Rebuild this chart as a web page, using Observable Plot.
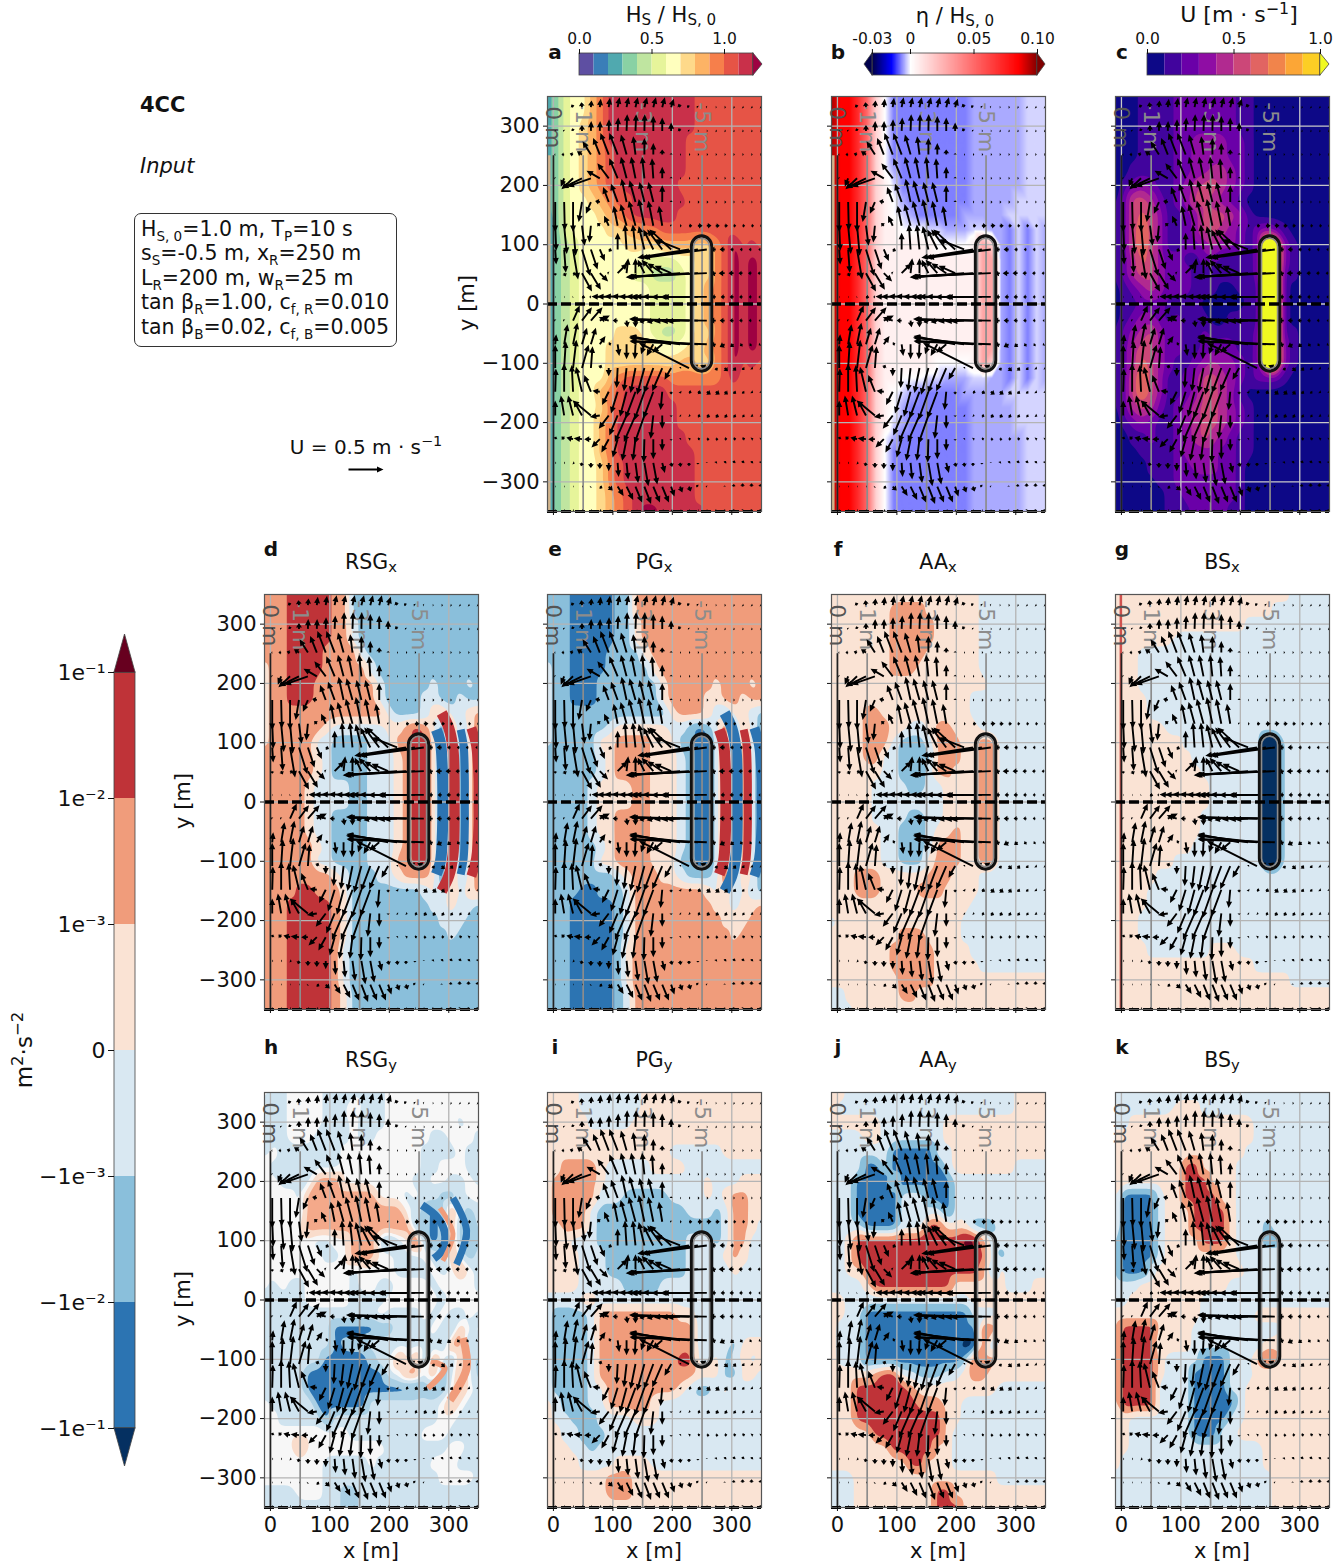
<!DOCTYPE html>
<html><head><meta charset="utf-8">
<script src="https://cdn.jsdelivr.net/npm/d3@7"></script>
<script src="https://cdn.jsdelivr.net/npm/@observablehq/plot@0.6"></script>
<style>
html,body{margin:0;padding:0;background:#fff}
#root{position:relative;width:1340px;height:1564px;overflow:hidden;font-family:"DejaVu Sans",sans-serif;color:#111}
#root svg{position:absolute;overflow:visible;background:transparent}
.t{position:absolute;white-space:nowrap;line-height:1}
.t sub,.t sup{font-size:72%;line-height:0}
.t sub{vertical-align:-0.2em}
#box sub{font-size:66%;line-height:0}
#box{position:absolute;left:134px;top:213px;width:255px;height:129px;border:1.3px solid #333;border-radius:7px;font-size:20.5px;line-height:24.4px;padding:3px 0 0 6px;white-space:nowrap;box-sizing:content-box}
</style></head><body><div id="root"></div>
<script>
// ---- grid of the gridded fields (metres) ----
const gridX=[-10,5,20,35,50,65,80,95,110,125,140,155,170,185,200,215,230,245,260,275,290,305,320,335,350];
const gridY=[350,325,300,275,250,225,200,175,150,125,100,75,50,25,0,-25,-50,-75,-100,-125,-150,-175,-200,-225,-250,-275,-300,-325,-350];

// ---- class in every grid cell, one string per gridY row ----
const levelsA=["2356689bbbbbbbbbbaaaaaaaa","2356689bbbbbbbbbbaaaaaaaa","2356789bbbbbbbbbbaaaaaaaa","2356789bbbbbbbbbaaaaaaaaa","2356789abbbbbbbbaaaaaaaaa","2356789abbbbbbbbaaaaaaaaa","2356789aabbbbbbaaaaaaaaaa","23566789aabbbbbbaaaaaaaaa","235666789abbbbbaaaaaaaaaa","1356666778899aaaaaaaaaaaa","13456666677778888779acaba","13456666666555566779acbcb","13456666665544456779acbcb","13456666666655556789acbcb","13456666666655556789acbcb","13456666666655556789acbcb","13456666777654456779acbcb","13456667777776667789acbcb","13456667777777788779acaba","134566689aaaaa999999abaaa","13456689abbbbbaaaaaaaaaaa","13456679abbbbbbaaaaaaaaaa","13456689bbbbbbbaaaaaaaaaa","13456689bbbbbbbbaaaaaaaaa","13456689bbbbbbbbbaaaaaaaa","13456679abbbbbbbbaaaaaaaa","13456679abbbbbbbbaaaaaaaa","134566789abbbbbbbaaaaaaaa","134566789abccbbbbbaaaaaaa"];
const levelsB=["cbba975222222222333333444","cbba975222222222333333444","cbba975222222222333333444","cbba975222222222333333444","cbba975222222222333333444","cbba975322222222333333444","cbba976422222222333333444","cbba976532222222333334444","cbba976543222223333344444","cbba976655544333443324243","cbba976666665555687324243","cbba976666666666688324243","cbba976666666666688324243","cbba976666666666688324243","cbba976666666666688324243","cbba976666666666688324243","cbba976666666666688324243","cbba976666666666688324243","cbba976666665555687324243","cbba976655544333443324243","cbba976543222223333344444","cbba976532222222333334444","cbba976432222222333334444","cbba975322222222333333444","cbba975222222222333333444","cbba975222222222333333444","cbba975222222222333333444","cbba975222222222333333444","cbba975222222222333333444"];
const levelsC=["0001111222222211000000000","0001111222222211000000000","0001111222222211000000000","0001111223333221000000000","0001111223333221000000000","0011111223344321000000000","0123211234554321000000000","0255421235543210000000000","0256531123555431000000000","0257531123554321232100000","02575311223433212aa210000","02465322112211112aa210000","02455323211111112aa110000","01234322211100111aa100000","01122211110000011aa100000","01233212111001111aa100000","02345322112111112aa110000","02455322112232112aa210000","02465321123433212aa210000","0257531123554321222100000","0257531123554310000000000","0245421234554321000000000","0123211234554321000000000","0011211234543211000000000","0001111233332211000000000","0000111223332210000000000","0000011222222210000000000","0000001122222210000000000","0000001112222110000000000"];
const levelsD=["5556666655222222222222222","5556666655222222222222222","5556666655322222222222222","5556666655322222222222222","5556666555532222222222222","4556666555553222222222222","4556665555555322222322232","4556665555555322223322322","4555555555555532223453345","4555555433333344565416245","4555553322223335566416146","5555554322223334566416146","5555554322223334566416146","5555543333223334566416146","5555543333223334566416146","5555543322223334566416146","5555543322223334566416146","5555554322223334566416146","5555553322223335566416146","5555555543222334555416245","5555665554222222223425345","5556666654222222222334332","5556666654222222222233322","5556666654222222222223222","5556666653222222222222222","5556666653222222222222222","5556666653222222222222222","5556666654222222222222222","5556666654222222222222222"];
const levelsE=["2221111122555555555555555","2221111122555555555555555","2221111122455555555555555","2221111122455555555555555","2221111222245555555555555","3221111222224555555555555","3221112222222455555455545","3221112222222455554455455","3222222222222245554324432","3222222344444433212361532","3222224455554442211361631","2222223455554443211361631","2222223455554443211361631","2222234444554443211361631","2222234444554443211361631","2222234455554443211361631","2222234455554443211361631","2222223455554443211361631","2222224455554442211361631","2222222234555443222361532","2222112223555555554352432","2221111123555555555443445","2221111123555555555544455","2221111123555555555554555","2221111124555555555555555","2221111124555555555555555","2221111124555555555555555","2221111123555555555555555","2221111123555555555555555"];
const levelsF=["4444444444444444433333333","4444444555544444433333333","4444444555554444433333333","4444444555554444433333333","4444444555544444433333333","4444444555444444433333333","4444444444444444443333333","4444444444444444333333333","4444554444444444333333333","4444555443345544433333333","4444555322235554455333333","4444553322225554455333333","4444443322235544455333333","4444433332233444455333333","4444433333333444455333333","4444433332233444455333333","4444443322234454455333333","4444443322235554455333333","4444443322245554455333333","4445554444455544433333333","4445554444555444433333333","4444444444444444333333333","3444444444444443333333333","4444444455544443333333333","4444444555554444333333333","4444444555554444433333333","4444444455554444444444444","3344444455444444444444444","3334444444444444444444444"];
const levelsG=["4444444444444444444433333","4444444444444444443333333","4444444444444443333333333","4444444333333333333333333","4443333333333333333333333","4443333333333333333333333","4443333333333333333333333","4444333333333333333333333","4444333333333333333333333","4444443333333333333333333","4444444433333333300333333","4444444443333333300333333","4444444444333333300333333","4444444444433333300333333","4444444444433333300333333","4444444444333333300333333","4444444444333333300333333","4444444443333333300333333","4444444333333333300333333","4444433333333333333333333","4444333333333333333333333","4444333333333333333333333","4443333333333333333333333","4443333333333333333333333","4444333333344433333333333","4444444444444444333333333","4444444444444444444433333","4444444444444444444444444","4444444444444444444444444"];
const levelsH=["w33wwww3333333wwwwwwwwwww","333wwww3334333wwwwwwwwwww","333wwww333w333wwwwwwww3ww","333www3333w33wwwwww33www3","3w3333333wwwwwwwww3333w33","w33333333wwwwwwwww33www33","ww3333555wwwwwwww33ww33w3","wwww355555555www3w33223ww","wwww355555555555w32125323","wwwww55555555555522125213","wwwwww33ww555323w62125213","wwwwwww33w555ww333w325323","wwwwwwwwww3wwww3333w3w5w3","w3w33wwwww3ww33wwww3wwww3","33333wwwww3333wwwwww3wwww","3333333333333w3333w3w33w3","3333333311111223333w3253w","333333331222333333332552w","3333333111112335w525w2532","333331111111113w5535235w2","333331111111111111212w5w3","w3333w11111133333333w5w33","ww333331333333333333ww333","wwwwwwwwww33333333www3333","wwww5wwwwwwwww3333333ww33","wwwwwww33333w333333www333","wwwwwww3333333333333wwww3","3333www332233333333333333","3333333332233333333333333"];
const levelsI=["4444333333344444444444444","4444333333344444444444444","4444433333444444444444444","4444444444444444444444444","4444444444444433333344444","4455554333334444333333333","4555554333333333334333444","4555553332222233334345544","4555532222222222333235544","4455532222222222222235543","4443332222222222333235533","4444333222222222333345433","4444333222222222333334333","4444333332222333333333333","3333443333333333333333333","3222235555555554433333333","3222235555555555533333333","3222235555555555533332444","3222235555555556633423434","3222235555555555544422443","3222233555555554322343333","4322233555554333333333333","4332223333444333333333333","4433222333333333333333333","4443323333333333333333333","4444333344443333333333333","4444444555444444444444444","4444444555444444444444444","4444444444444444444444444"];
const levelsJ=["4433333333333333333334444","4333333333333333333334444","4444443333333444444444444","3333443333333444444444444","3333333111113344444444444","3333113111111344444443333","3331111311111133333333333","3331111133311133333333333","3331111133333133333333333","3333111133366444222333333","3346666666666667753333333","3346666666666666663233333","3344666666666666652433333","3333466666666644444433344","4433333333333333444444444","4433111111111111333444444","4333111111111111165444444","4333111111111110062444444","4333111111111112655444444","4444456633222334554444444","4446666665444444444333333","4446666666555443333333333","4446666666666443333333333","4444466666666433333333333","4444444666664433333333333","4444444446644433333333333","3334444444444444444333333","3334444444446644444444444","3334444444446664444444444"];
const levelsK=["3333333333333333333333333","3333333444333333333333333","3344444444444444333333333","4444444444444444333333333","4444444444444443333333333","4444444466444433333333333","4444444466644433333333333","4111134466664433333333333","4111134446666433333333333","4111134446666433323333333","3111134444666433322333333","3111134444444433333333333","3111344444444443333333333","3334444444444333333333333","3344444444333333333333333","4444444444333333444444444","4666644443333333333444444","4666634443333333344444444","4666643333111333565444444","4666643331111333444444444","4666633331111334444444444","4666633331111134444444444","4433333331111334444444444","4433333331113344444444444","4433333333333333344444444","4333333333333333344444444","3333333333333333334444444","3333333333333333334444444","3333333333333333334444444"];

// ---- colour classes ----
const coloursA=["#5e4fa2","#3a7eb8","#50a9af","#89d1a4","#bfe5a0","#e6f49a","#ffffbe","#fed98a","#fdb365","#f67f4b","#e65446","#c9304a","#9e0142"];
const thresholdsA=[.5,1.5,2.5,3.5,4.5,5.5,6.5,7.5,8.5,9.5,10.5,11.5];
const coloursC=["#0d0887","#41049d","#6a00a8","#8f0da4","#b12a90","#cc4778","#e16462","#f1844b","#fca636","#fcce25","#f0f921"];
const thresholdsC=[.5,1.5,2.5,3.5,4.5,5.5,6.5,7.5,8.5,9.5];
const coloursRB=["#053061","#2c74b2","#8abfdb","#d9e8f2","#fae3d4","#f09c7b","#bf3338","#67001f"];
const thresholdsRB=[.5,1.5,2.5,3.5,4.5,5.5,6.5];
const coloursH=["#053061","#2c74b2","#a9cfe4","#cfe3ef","#f7f7f7","#f9dccb","#f4a98a","#bf3338","#67001f"];
const thresholdsH=[.5,1.5,2.5,3.25,3.75,4.5,5.5,6.5];
const etaOfLevel=[-.02,-.012,-.0075,-.005,-.0025,0,.005,.015,.03,.05,.07,.085,.095];
const etaDomain=[-.03,-.015,0,.085,.1];
const etaRange=["#00004c","#0000ff","#ffffff","#ff0000","#7f0000"];

// ---- wave crests seaward of the reef, narrower than the grid: metres along each crest ----
const crest1=[{x:279,y:122},{x:286,y:100},{x:289,y:60},{x:290,y:0},{x:289,y:-60},{x:286,y:-100},{x:279,y:-122}];
const crest2=[{x:288,y:150},{x:300,y:125},{x:307,y:90},{x:309,y:40},{x:309,y:0},{x:309,y:-40},{x:307,y:-90},{x:300,y:-125},{x:288,y:-150}];
const crest3=[{x:320,y:122},{x:325,y:95},{x:327,y:40},{x:327,y:0},{x:327,y:-40},{x:325,y:-95},{x:320,y:-122}];
const crest4=[{x:338,y:125},{x:346,y:95},{x:350,y:40},{x:350,y:0},{x:350,y:-40},{x:346,y:-95},{x:338,y:-125}];
const crestsD=[{pts:crest1,c:1,w:11},{pts:crest2,c:6,w:11},{pts:crest3,c:1,w:8},{pts:crest4,c:6,w:10}];
const crestsE=[{pts:crest1,c:6,w:11},{pts:crest2,c:1,w:11},{pts:crest3,c:6,w:8},{pts:crest4,c:1,w:10}];
const arcH1=[{x:255,y:160},{x:280,y:140},{x:293,y:115},{x:290,y:85},{x:275,y:70}];
const arcH2=[{x:285,y:155},{x:307,y:112},{x:290,y:66}];
const arcH3=[{x:307,y:172},{x:330,y:117},{x:313,y:60}];
const arcH4=[{x:324,y:-64},{x:330,y:-115},{x:302,y:-169}];
const arcH5=[{x:270,y:-103},{x:293,y:-115},{x:265,y:-149}];
const crestsH=[{pts:arcH1,c:1,w:8},{pts:arcH2,c:5,w:5},{pts:arcH3,c:1,w:7},{pts:arcH4,c:5,w:8},{pts:arcH5,c:5,w:6}];

// ---- current vectors: rows at quiverY, columns at quiverX. Units: 105 = 0.5 m/s ----
const quiverX=[3,18,33,48,63,78,93,108,123,138,153,168,183,198,213,228,243,258,273,288,303,318,333,348];
const quiverY=[332,292,252,212,172,132,92,52,12,-28,-68,-108,-148,-188,-228,-268,-308,-348];
const quiverU=[
[0,0,-5,-2,2,3,4,6,6,7,8,8,8,8,-5,-6,-4,-3,3,4,4,4,4,4],
[1,-3,-2,0,1,1,1,2,2,2,1,0,0,0,-5,-3,3,3,4,4,4,4,4,4],
[-3,-8,-10,-15,-25,-20,-25,-25,-17,-7,0,0,0,0,3,4,4,4,4,4,4,4,4,4],
[-3,-10,-35,-60,-70,-40,-34,-25,-17,-13,-7,-4,0,0,3,4,4,4,4,4,4,4,4,4],
[0,2,0,-10,-15,-14,-17,-20,-15,-18,-15,-15,0,0,3,4,5,5,5,5,4,4,4,4],
[3,8,8,8,-5,-8,-14,-12,-18,-20,-17,-15,-10,-3,5,10,14,14,12,10,8,8,8,8],
[3,5,15,25,20,15,10,0,-5,-8,-17,-30,-45,-65,-75,-155,-170,-190,-15,-15,-10,-8,-8,-6],
[0,5,10,30,30,25,-5,30,5,0,-20,-35,-45,-50,-160,-190,-210,-230,-14,-18,-15,-12,-10,-8],
[2,2,-2,10,-5,-25,-35,-40,-45,-50,-55,-55,-60,-60,-60,-80,-200,-230,-12,-12,-12,-10,-8,-6],
[-3,-3,20,30,35,30,-30,-15,3,0,-15,-20,-25,-30,-40,-180,-200,-230,-18,-15,-12,-10,-8,-5],
[3,10,13,15,15,17,8,5,0,-2,-10,-20,-30,-125,-150,-180,-205,-230,-14,-15,-10,-8,-6,-5],
[0,5,10,20,5,5,0,-3,-8,-15,-22,-28,-30,-20,3,-150,-15,-20,5,10,8,6,5,5],
[2,0,-4,-18,-20,-22,-20,-20,-20,-30,-30,-30,-5,0,3,8,10,12,12,10,8,6,5,4],
[0,-10,-15,-25,-55,-30,-30,-25,-35,-35,-30,-8,0,0,3,5,8,10,10,9,8,7,6,5],
[3,-8,-20,-25,-20,-25,-22,-15,-13,-8,-2,0,0,0,3,5,7,8,8,8,8,8,6,5],
[3,3,5,-3,0,0,0,3,5,8,12,12,8,3,2,0,0,0,3,4,4,4,4,3],
[2,2,2,2,-2,8,12,18,20,20,20,20,20,10,7,5,-5,-3,0,0,1,1,1,0],
[3,3,3,4,4,5,5,5,5,5,5,5,4,4,3,3,3,3,3,2,2,2,2,2]];
const quiverV=[
[0,0,8,15,20,25,28,30,30,30,30,30,30,25,10,5,3,1,0,0,-1,-2,-2,-2],
[2,3,8,18,30,30,35,40,50,50,50,45,40,25,8,3,0,0,-1,-1,-1,-1,-1,-1],
[0,0,3,10,40,50,65,65,60,55,50,35,15,5,0,0,0,0,0,0,0,0,0,0],
[2,-25,-33,-30,-25,23,45,60,65,65,65,60,35,5,0,0,0,0,0,0,0,0,0,0],
[-90,-85,-90,-60,-35,3,45,55,70,65,60,60,50,5,0,0,0,0,0,0,0,0,0,0],
[-75,-85,-90,-60,-50,8,30,60,65,75,80,75,60,3,0,0,0,1,0,0,0,0,0,0],
[-45,-70,-90,-80,-60,-35,-5,50,75,75,70,60,60,60,30,-25,-25,-25,0,0,0,0,0,0],
[-8,-10,-5,-55,-50,-25,2,30,45,45,40,40,30,22,-12,-12,-12,-10,-3,0,0,0,0,0],
[0,0,-1,-2,0,1,1,2,2,1,1,1,1,0,0,0,0,0,0,0,0,0,0,0],
[3,3,45,40,40,15,10,0,-20,-20,-5,-5,-3,-3,-3,5,3,3,0,0,0,0,0,0],
[30,60,65,50,50,25,3,-35,-45,-45,-30,-35,-25,25,22,20,10,8,-3,-8,-8,-5,-4,-3],
[70,80,85,70,65,10,-25,-60,-70,-75,-80,-75,-70,-35,3,75,10,8,-8,-10,-8,-6,-4,-3],
[70,85,80,75,50,3,-40,-65,-75,-80,-85,-80,-55,-8,-5,-3,-5,-8,-8,-8,-6,-5,-4,-3],
[45,60,60,45,45,-5,-40,-60,-80,-80,-85,-70,-40,-5,-3,-2,-3,-5,-5,-5,-5,-4,-3,-2],
[8,8,5,3,0,-25,-40,-55,-65,-65,-70,-60,-35,-5,3,3,2,0,0,1,2,3,3,3],
[0,0,-2,-10,-15,-18,-25,-42,-50,-60,-70,-65,-30,-12,-12,-10,-5,2,5,6,7,7,6,5],
[0,0,0,0,-3,-5,-12,-28,-40,-48,-52,-48,-48,-30,-18,-15,5,2,0,3,8,10,10,8],
[0,0,0,-2,-3,-4,-5,-6,-6,-6,-6,-5,-4,-3,-3,-2,-1,0,1,2,3,3,3,3]];
const referenceArrow=[{u:105,v:0}];

// ---- fixed features of the maps ----
const depthContours=[{x:0,label:"0 m",stroke:"#222",text:"#555"},{x:50,label:"-1 m",stroke:"#8c8c8c",text:"#8c8c8c"},{x:150,label:"-3 m",stroke:"#8c8c8c",text:"#8c8c8c"},{x:250,label:"-5 m",stroke:"#8c8c8c",text:"#8c8c8c"}];
const depthTop=250, labelY=298;
const gridTicksX=[0,100,200,300], gridTicksY=[-300,-200,-100,0,100,200,300];
const reefOuter=[{x1:233,x2:267,y1:-114,y2:114}], reefInner=[{x1:236.5,x2:263.5,y1:-110,y2:110}];
const tanStrip=[{x1:-10,x2:-4,y1:-350,y2:250}];

const root=document.getElementById("root");
function txt(html,x,y,o={}){
  const d=document.createElement("div");d.className="t";d.innerHTML=html;
  d.style.left=x+"px";d.style.top=y+"px";
  d.style.fontSize=(o.size||19)+"px";
  if(o.weight)d.style.fontWeight=o.weight;
  if(o.italic)d.style.fontStyle="italic";
  const a=o.anchor==="start"?"0":"-50%";
  d.style.transform=`translate(${a},-50%)`+(o.rotate?` rotate(${o.rotate}deg)`:"");
  root.appendChild(d);
}
function place(svg,left,top){svg.style.left=left+"px";svg.style.top=top+"px";root.appendChild(svg);}

const quiverShape={draw(ctx,l){
  if(l<0.4)return;
  const hl=Math.min(6.5,Math.max(l*0.75,1.8)),hw=Math.min(3,1+l*0.38),sw=0.95;
  if(l<=hl+0.5){ctx.moveTo(0,-l);ctx.lineTo(hw,0);ctx.lineTo(-hw,0);ctx.closePath();return;}
  ctx.moveTo(-sw,0);ctx.lineTo(-sw,-(l-hl));ctx.lineTo(-hw,-(l-hl));ctx.lineTo(0,-l);ctx.lineTo(hw,-(l-hl));ctx.lineTo(sw,-(l-hl));ctx.lineTo(sw,0);ctx.closePath();
}};
const arrows=quiverY.flatMap((y,r)=>quiverX.map((x,c)=>{
  const u=quiverU[r][c],v=quiverV[r][c];
  return {x,y,len:Math.hypot(u,v)/3,rot:Math.atan2(u,v)*180/Math.PI};
}));

const W=214,H=415;
function panel(cfg){
  const {levels,decode,color,left,top,showX,showY,reefFill,tan,shoreRed,crests,palette,bands}=cfg;
  const cells=levels.flatMap((row,r)=>gridX.map((x,j)=>{
    const ch=row[j]??row[row.length-1];
    return {x,y:gridY[r],v:decode(ch)};
  }));
  const ml=showY?70:8,mb=showX?34:8;
  const fmtY=d=>showY?String(d).replace("-","\u2212"):"";
  const fmtX=d=>showX?String(d):"";
  const field={x:"x",y:"y",fill:"v",interpolate:"barycentric",x1:-10,x2:350,y1:-350,y2:350,pixelSize:1};
  const svg=Plot.plot({
    width:W+ml+2,height:H+2+mb,marginLeft:ml,marginRight:2,marginTop:2,marginBottom:mb,
    x:{domain:[-10,350]},y:{domain:[-350,350]},color,length:{type:"identity"},
    style:{fontFamily:"DejaVu Sans",fontSize:"21px",background:"transparent",color:"#111"},
    marks:[
      Plot.raster(cells,field),
      ...(bands?[Plot.contour(cells,{...field,thresholds:[-1,...bands],blur:3,stroke:"none"})]:[]),
      ...(crests||[]).map(c=>Plot.line(c.pts,{x:"x",y:"y",stroke:()=>palette[c.c],strokeWidth:c.w,curve:"catmull-rom",strokeLinecap:"butt",clip:true})),
      ...(tan?[Plot.rect(tanStrip,{x1:"x1",x2:"x2",y1:"y1",y2:"y2",fill:"#d2b48c"})]:[]),
      Plot.ruleX(gridTicksX,{stroke:cfg.gridStroke||"#b4b4b4",strokeWidth:1.3}),
      Plot.ruleY(gridTicksY,{stroke:cfg.gridStroke||"#b4b4b4",strokeWidth:1.3}),
      ...(shoreRed?[Plot.ruleX([-1],{stroke:"#d0524e",strokeWidth:2.5})]:[]),
      Plot.ruleX(depthContours,{x:"x",y1:-350,y2:depthTop,stroke:"stroke",strokeWidth:1.7}),
      Plot.text(depthContours,{x:"x",y:labelY,text:"label",rotate:90,fill:"text",fontSize:22}),
      ...(reefFill?[Plot.rect(reefInner,{x1:"x1",x2:"x2",y1:"y1",y2:"y2",fill:reefFill,rx:9})]:[]),
      Plot.vector(arrows,{x:"x",y:"y",length:"len",rotate:"rot",anchor:"start",shape:quiverShape,fill:"#000",stroke:"none",clip:true}),
      Plot.rect(reefOuter,{x1:"x1",x2:"x2",y1:"y1",y2:"y2",rx:10.5,fill:"none",stroke:"#111",strokeWidth:3.2}),
      Plot.rect(reefInner,{x1:"x1",x2:"x2",y1:"y1",y2:"y2",rx:8.5,fill:"none",stroke:"#8c8c8c",strokeWidth:1.6}),
      Plot.ruleY([0],{stroke:"#000",strokeWidth:3.4,strokeDasharray:"10,4"}),
      Plot.ruleY([-350],{stroke:"#000",strokeWidth:3,strokeDasharray:"10,4"}),
      Plot.frame({stroke:"#555",strokeWidth:1.2}),
      Plot.axisX({ticks:gridTicksX,tickSize:4,tickPadding:6,tickFormat:fmtX,label:null,fontSize:21,anchor:"bottom"}),
      Plot.axisY({ticks:gridTicksY,tickSize:4,tickPadding:4,tickFormat:fmtY,label:null,fontSize:21,anchor:"left"})
    ]
  });
  place(svg,left-ml,top-2);
}
const thr=(domain,range)=>({type:"threshold",domain,range});
const levelNum=c=>parseInt(c,36);
const levelH=c=>c==="w"?3.5:parseInt(c,36);
const rb=thr(thresholdsRB,coloursRB);

const colX=[264,547,831,1115], rowY=[96,594,1092];
panel({levels:levelsA,decode:levelNum,color:thr(thresholdsA,coloursA),bands:thresholdsA,left:colX[1],top:rowY[0],showY:true,tan:true});
panel({levels:levelsB,decode:c=>etaOfLevel[parseInt(c,36)],color:{type:"linear",domain:etaDomain,range:etaRange,clamp:true},left:colX[2],top:rowY[0],tan:true});
panel({levels:levelsC,decode:levelNum,color:thr(thresholdsC,coloursC),bands:thresholdsC,left:colX[3],top:rowY[0],reefFill:"#f0f921",gridStroke:"#c8c8c8"});
panel({levels:levelsD,decode:levelNum,color:rb,bands:thresholdsRB,left:colX[0],top:rowY[1],showY:true,crests:crestsD,palette:coloursRB});
panel({levels:levelsE,decode:levelNum,color:rb,bands:thresholdsRB,left:colX[1],top:rowY[1],crests:crestsE,palette:coloursRB});
panel({levels:levelsF,decode:levelNum,color:rb,bands:thresholdsRB,left:colX[2],top:rowY[1]});
panel({levels:levelsG,decode:levelNum,color:rb,bands:thresholdsRB,left:colX[3],top:rowY[1],reefFill:"#053061",shoreRed:true});
panel({levels:levelsH,decode:levelH,color:thr(thresholdsH,coloursH),bands:thresholdsH,left:colX[0],top:rowY[2],showY:true,showX:true,crests:crestsH,palette:coloursRB});
panel({levels:levelsI,decode:levelNum,color:rb,bands:thresholdsRB,left:colX[1],top:rowY[2],showX:true});
panel({levels:levelsJ,decode:levelNum,color:rb,bands:thresholdsRB,left:colX[2],top:rowY[2],showX:true});
panel({levels:levelsK,decode:levelNum,color:rb,bands:thresholdsRB,left:colX[3],top:rowY[2],showX:true});

// ---- horizontal colour bars ----
function hbar({xL,xR,v0,v1,segs,tipsL,tipsR,ticks,labels}){
  const m=30;
  const tri=(from,to,fill)=>Plot.areaY([{x:from,y1:0,y2:1},{x:to,y1:.5,y2:.5}],{x:"x",y1:"y1",y2:"y2",fill,stroke:"#444",strokeWidth:.8});
  const svg=Plot.plot({width:xR-xL+2*m,height:50,marginLeft:m,marginRight:m,marginTop:26,marginBottom:2,
    x:{domain:[v0,v1]},y:{domain:[0,1],axis:null},
    style:{fontFamily:"DejaVu Sans",fontSize:"15.5px",background:"transparent",color:"#111"},
    marks:[
      Plot.rect(segs,{x1:"a",x2:"b",y1:0,y2:1,fill:"c"}),
      Plot.rect([{a:segs[0].a,b:segs[segs.length-1].b}],{x1:"a",x2:"b",y1:0,y2:1,fill:"none",stroke:"#444",strokeWidth:.8}),
      ...(tipsL?[tri(tipsL[0],tipsL[1],tipsL[2])]:[]),
      ...(tipsR?[tri(tipsR[0],tipsR[1],tipsR[2])]:[]),
      Plot.axisX({ticks,anchor:"top",tickSize:5,tickPadding:5,label:null,fontSize:15.5,tickFormat:d=>labels[ticks.indexOf(d)]})
    ]});
  place(svg,xL-m,53-26);
}
const barClassesA=d3.range(12).map(i=>({a:i*.1,b:(i+1)*.1,c:coloursA[i]}));
hbar({xL:579,xR:762,v0:0,v1:183/145,segs:barClassesA,tipsR:[1.2,183/145,coloursA[12]],ticks:[0,.5,1],labels:["0.0","0.5","1.0"]});
const etaColor=d3.scaleLinear().domain(etaDomain).range(etaRange).clamp(true);
const barClassesB=d3.range(-.03,.1,.001).map(a=>({a,b:Math.min(a+.0018,.1),c:etaColor(a)}));
hbar({xL:864,xR:1045,v0:(864-910)/1270,v1:(1045-910)/1270,segs:barClassesB,tipsL:[-.03,(864-910)/1270,"#00004c"],tipsR:[.1,(1045-910)/1270,"#7f0000"],ticks:[-.03,0,.05,.1],labels:["-0.03","0","0.05","0.10"]});
const barClassesC=d3.range(10).map(i=>({a:i*.1,b:(i+1)*.1,c:coloursC[i]}));
hbar({xL:1147,xR:1329,v0:0,v1:182/173,segs:barClassesC,tipsR:[1,182/173,coloursC[10]],ticks:[0,.5,1],labels:["0.0","0.5","1.0"]});

// ---- vertical colour bar ----
const vLabels=["\u22121e\u207B\u00B9","\u22121e\u207B\u00B2","\u22121e\u207B\u00B3","0","1e\u207B\u00B3","1e\u207B\u00B2","1e\u207B\u00B9"];
const vClasses=[1,2,3,4,5,6].map((k,i)=>({a:i,b:i+1,c:coloursRB[k]}));
const tip=38/126;
place(Plot.plot({width:21+106,height:756+76+2,marginLeft:106,marginRight:0,marginTop:1,marginBottom:1,
  x:{domain:[0,1],axis:null},y:{domain:[-tip,6+tip]},
  style:{fontFamily:"DejaVu Sans",fontSize:"22px",background:"transparent",color:"#111"},
  marks:[
    Plot.rect(vClasses,{y1:"a",y2:"b",x1:0,x2:1,fill:"c"}),
    Plot.rect([{a:0,b:6}],{y1:"a",y2:"b",x1:0,x2:1,fill:"none",stroke:"#444",strokeWidth:.8}),
    Plot.areaX([{y:6,x1:0,x2:1},{y:6+tip,x1:.5,x2:.5}],{y:"y",x1:"x1",x2:"x2",fill:coloursRB[7],stroke:"#444",strokeWidth:.8}),
    Plot.areaX([{y:0,x1:0,x2:1},{y:-tip,x1:.5,x2:.5}],{y:"y",x1:"x1",x2:"x2",fill:coloursRB[0],stroke:"#444",strokeWidth:.8}),
    Plot.axisY({ticks:[0,1,2,3,4,5,6],tickSize:6,tickPadding:3,label:null,fontSize:22,anchor:"left",tickFormat:d=>vLabels[d]})
  ]}),114-106,633);
txt("m<sup>2</sup>\u00B7s<sup>\u22122</sup>",24,1050,{size:23,rotate:-90});

// ---- legend arrow ----
place(Plot.plot({width:50,height:12,margin:0,x:{domain:[0,50],range:[0,50],axis:null},y:{domain:[0,12],range:[12,0],axis:null},length:{type:"identity"},
  marks:[Plot.vector(referenceArrow,{x:()=>4,y:()=>6,length:d=>Math.hypot(d.u,d.v)/3,rotate:d=>Math.atan2(d.u,d.v)*180/Math.PI,anchor:"start",shape:quiverShape,fill:"#000",stroke:"none"})]}),344,463);

// ---- texts ----
txt("4CC",140,105,{size:21,weight:"bold",anchor:"start"});
txt("Input",140,166,{size:21,italic:true,anchor:"start"});
const box=document.createElement("div");box.id="box";
box.innerHTML=["H<sub>S, 0</sub>=1.0 m, T<sub>P</sub>=10 s","s<sub>S</sub>=-0.5 m, x<sub>R</sub>=250 m","L<sub>R</sub>=200 m, w<sub>R</sub>=25 m","tan \u03B2<sub>R</sub>=1.00, c<sub>f, R</sub>=0.010","tan \u03B2<sub>B</sub>=0.02, c<sub>f, B</sub>=0.005"].join("<br>");
root.appendChild(box);
txt("U = 0.5 m \u00B7 s<sup>\u22121</sup>",366,447,{size:20});
txt("H<sub>S</sub> / H<sub>S, 0</sub>",671,15,{size:21});
txt("\u03B7 / H<sub>S, 0</sub>",955,16,{size:21});
txt("U [m \u00B7 s<sup>\u22121</sup>]",1239,15,{size:22});
[["a",555,52],["b",838,52],["c",1122,52],["d",271,549],["e",555,549],["f",838,549],["g",1122,549],["h",271,1047],["i",555,1047],["j",838,1047],["k",1122,1047]]
 .forEach(([s,x,y])=>txt(s,x,y,{size:20,weight:"bold"}));
const titles=[["RSG","x"],["PG","x"],["AA","x"],["BS","x"],["RSG","y"],["PG","y"],["AA","y"],["BS","y"]];
titles.forEach(([n,s],i)=>txt(`${n}<sub>${s}</sub>`,colX[i%4]+107,i<4?562:1060,{size:20.5}));
[[467,303],[183,801],[183,1299]].forEach(([x,y])=>txt("y [m]",x,y,{size:21,rotate:-90}));
colX.forEach(x=>txt("x [m]",x+107,1551,{size:21}));
</script></body></html>
